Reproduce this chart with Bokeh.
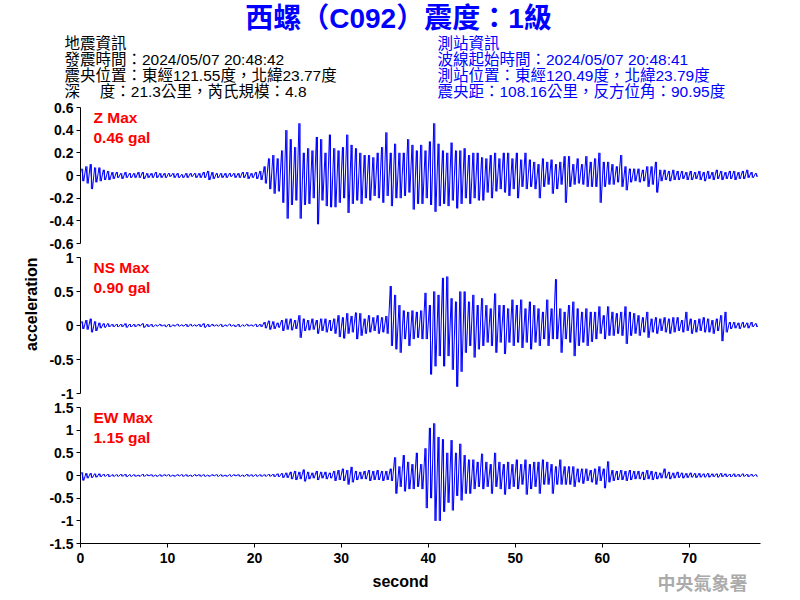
from bokeh.plotting import figure
from bokeh.layouts import column
from bokeh.models import Range1d, Label, Title, FixedTicker, CustomJSTickFormatter
from bokeh.embed import file_html
from bokeh.resources import INLINE
from bokeh.core.properties import value

# ---------------- data: peak values per half-second bin ----------------
BIN_START = [i * 0.5 for i in range(156)]   # seconds

Z_HI = [0.06, 0.08, 0.10, 0.07, 0.07, 0.05, 0.04, 0.03, 0.03, 0.02,
        0.03, 0.02, 0.02, 0.03, 0.03, 0.02, 0.02, 0.03, 0.02, 0.02,
        0.02, 0.02, 0.02, 0.01, 0.02, 0.02, 0.02, 0.02, 0.03, 0.04,
        0.03, 0.02, 0.02, 0.02, 0.02, 0.02, 0.02, 0.03, 0.03, 0.02,
        0.03, 0.04, 0.08, 0.15, 0.18, 0.15, 0.22, 0.40, 0.32, 0.25,
        0.46, 0.20, 0.24, 0.22, 0.34, 0.32, 0.20, 0.36, 0.24, 0.22,
        0.25, 0.36, 0.27, 0.24, 0.20, 0.18, 0.18, 0.16, 0.20, 0.25,
        0.38, 0.20, 0.28, 0.20, 0.20, 0.32, 0.27, 0.22, 0.27, 0.22,
        0.30, 0.46, 0.28, 0.22, 0.20, 0.29, 0.22, 0.22, 0.24, 0.18,
        0.20, 0.20, 0.16, 0.15, 0.18, 0.20, 0.15, 0.20, 0.20, 0.15,
        0.20, 0.14, 0.20, 0.14, 0.12, 0.10, 0.15, 0.12, 0.14, 0.10,
        0.12, 0.17, 0.17, 0.10, 0.15, 0.10, 0.17, 0.12, 0.15, 0.20,
        0.12, 0.12, 0.10, 0.08, 0.18, 0.08, 0.06, 0.06, 0.06, 0.05,
        0.08, 0.08, 0.12, 0.05, 0.05, 0.04, 0.05, 0.04, 0.04, 0.03,
        0.04, 0.03, 0.04, 0.03, 0.04, 0.03, 0.05, 0.04, 0.03, 0.04,
        0.04, 0.03, 0.04, 0.05, 0.03, 0.02]
Z_LO = [-0.05, -0.07, -0.12, -0.06, -0.05, -0.04, -0.04, -0.03, -0.02, -0.03,
        -0.02, -0.02, -0.02, -0.02, -0.03, -0.02, -0.02, -0.02, -0.02, -0.02,
        -0.01, -0.02, -0.02, -0.02, -0.02, -0.01, -0.02, -0.02, -0.02, -0.04,
        -0.03, -0.02, -0.02, -0.02, -0.01, -0.02, -0.02, -0.02, -0.03, -0.02,
        -0.03, -0.04, -0.07, -0.12, -0.16, -0.14, -0.24, -0.38, -0.26, -0.22,
        -0.38, -0.26, -0.25, -0.20, -0.43, -0.22, -0.27, -0.28, -0.28, -0.24,
        -0.20, -0.33, -0.25, -0.22, -0.25, -0.20, -0.22, -0.18, -0.20, -0.24,
        -0.18, -0.27, -0.20, -0.20, -0.18, -0.15, -0.30, -0.25, -0.25, -0.20,
        -0.26, -0.32, -0.27, -0.25, -0.27, -0.22, -0.29, -0.25, -0.20, -0.25,
        -0.20, -0.22, -0.22, -0.15, -0.20, -0.14, -0.12, -0.15, -0.18, -0.12,
        -0.20, -0.10, -0.12, -0.10, -0.12, -0.20, -0.10, -0.08, -0.16, -0.12,
        -0.08, -0.24, -0.10, -0.08, -0.07, -0.08, -0.10, -0.10, -0.10, -0.24,
        -0.10, -0.08, -0.08, -0.06, -0.10, -0.13, -0.06, -0.05, -0.06, -0.05,
        -0.10, -0.08, -0.15, -0.05, -0.04, -0.05, -0.04, -0.04, -0.03, -0.04,
        -0.04, -0.03, -0.04, -0.05, -0.03, -0.04, -0.03, -0.04, -0.03, -0.03,
        -0.04, -0.03, -0.03, -0.02, -0.02, -0.01]

NS_HI = [0.06, 0.08, 0.10, 0.06, 0.04, 0.03, 0.03, 0.02, 0.02, 0.02,
         0.03, 0.02, 0.02, 0.02, 0.03, 0.02, 0.02, 0.01, 0.02, 0.01,
         0.02, 0.01, 0.02, 0.01, 0.02, 0.02, 0.01, 0.02, 0.03, 0.02,
         0.02, 0.01, 0.02, 0.01, 0.02, 0.01, 0.02, 0.01, 0.02, 0.01,
         0.02, 0.02, 0.05, 0.07, 0.06, 0.04, 0.08, 0.10, 0.10, 0.08,
         0.15, 0.10, 0.08, 0.10, 0.08, 0.10, 0.10, 0.08, 0.10, 0.15,
         0.12, 0.18, 0.14, 0.19, 0.18, 0.10, 0.15, 0.12, 0.15, 0.12,
         0.14, 0.58, 0.45, 0.30, 0.22, 0.20, 0.22, 0.20, 0.22, 0.48,
         0.30, 0.50, 0.45, 0.70, 0.72, 0.40, 0.35, 0.50, 0.50, 0.35,
         0.45, 0.30, 0.40, 0.30, 0.25, 0.47, 0.30, 0.30, 0.25, 0.38,
         0.30, 0.38, 0.25, 0.35, 0.30, 0.25, 0.20, 0.38, 0.25, 0.68,
         0.25, 0.20, 0.30, 0.35, 0.25, 0.20, 0.25, 0.20, 0.20, 0.28,
         0.15, 0.28, 0.20, 0.18, 0.20, 0.28, 0.20, 0.18, 0.15, 0.12,
         0.20, 0.10, 0.12, 0.10, 0.12, 0.10, 0.12, 0.12, 0.08, 0.20,
         0.10, 0.08, 0.10, 0.12, 0.10, 0.08, 0.10, 0.15, 0.20, 0.05,
         0.05, 0.04, 0.05, 0.04, 0.05, 0.03]
NS_LO = [-0.05, -0.06, -0.10, -0.08, -0.04, -0.03, -0.02, -0.02, -0.02, -0.02,
         -0.03, -0.02, -0.02, -0.01, -0.03, -0.02, -0.02, -0.01, -0.01, -0.02,
         -0.02, -0.01, -0.01, -0.01, -0.02, -0.01, -0.01, -0.02, -0.03, -0.02,
         -0.01, -0.01, -0.02, -0.01, -0.01, -0.02, -0.02, -0.01, -0.01, -0.01,
         -0.02, -0.02, -0.04, -0.06, -0.05, -0.03, -0.08, -0.06, -0.07, -0.05,
         -0.18, -0.08, -0.07, -0.06, -0.12, -0.08, -0.10, -0.08, -0.12, -0.17,
         -0.19, -0.12, -0.10, -0.20, -0.15, -0.12, -0.10, -0.08, -0.12, -0.10,
         -0.12, -0.30, -0.35, -0.40, -0.20, -0.30, -0.20, -0.18, -0.20, -0.20,
         -0.72, -0.60, -0.45, -0.60, -0.45, -0.65, -0.90, -0.68, -0.40, -0.30,
         -0.47, -0.35, -0.30, -0.25, -0.30, -0.40, -0.25, -0.42, -0.25, -0.30,
         -0.25, -0.33, -0.25, -0.35, -0.25, -0.30, -0.20, -0.30, -0.20, -0.20,
         -0.40, -0.20, -0.25, -0.45, -0.30, -0.25, -0.30, -0.24, -0.20, -0.12,
         -0.20, -0.15, -0.15, -0.12, -0.15, -0.27, -0.15, -0.12, -0.15, -0.10,
         -0.18, -0.10, -0.12, -0.08, -0.10, -0.12, -0.10, -0.08, -0.10, -0.08,
         -0.12, -0.10, -0.08, -0.10, -0.10, -0.12, -0.08, -0.23, -0.10, -0.05,
         -0.04, -0.05, -0.03, -0.04, -0.02, -0.02]

EW_HI = [0.07, 0.05, 0.05, 0.04, 0.04, 0.03, 0.03, 0.02, 0.02, 0.03,
         0.03, 0.02, 0.02, 0.01, 0.03, 0.02, 0.02, 0.01, 0.02, 0.02,
         0.02, 0.01, 0.02, 0.02, 0.02, 0.01, 0.02, 0.02, 0.02, 0.01,
         0.02, 0.02, 0.02, 0.01, 0.02, 0.02, 0.02, 0.01, 0.03, 0.02,
         0.02, 0.02, 0.02, 0.03, 0.03, 0.04, 0.05, 0.06, 0.08, 0.10,
         0.08, 0.13, 0.08, 0.06, 0.10, 0.08, 0.08, 0.06, 0.10, 0.12,
         0.15, 0.12, 0.19, 0.10, 0.08, 0.10, 0.12, 0.10, 0.12, 0.10,
         0.10, 0.15, 0.40, 0.20, 0.45, 0.30, 0.25, 0.50, 0.25, 0.60,
         1.05, 1.15, 0.85, 0.80, 0.50, 0.78, 0.50, 0.70, 0.45, 0.35,
         0.35, 0.30, 0.48, 0.30, 0.25, 0.50, 0.30, 0.25, 0.30, 0.25,
         0.35, 0.25, 0.35, 0.25, 0.30, 0.30, 0.35, 0.30, 0.25, 0.20,
         0.35, 0.20, 0.20, 0.20, 0.15, 0.15, 0.15, 0.12, 0.15, 0.20,
         0.15, 0.31, 0.12, 0.10, 0.12, 0.10, 0.12, 0.10, 0.10, 0.08,
         0.12, 0.10, 0.08, 0.06, 0.15, 0.08, 0.06, 0.08, 0.06, 0.05,
         0.06, 0.05, 0.05, 0.04, 0.05, 0.04, 0.04, 0.05, 0.04, 0.03,
         0.04, 0.03, 0.04, 0.03, 0.03, 0.02]
EW_LO = [-0.11, -0.06, -0.05, -0.04, -0.03, -0.02, -0.03, -0.02, -0.02, -0.02,
         -0.03, -0.02, -0.02, -0.02, -0.02, -0.01, -0.02, -0.02, -0.02, -0.01,
         -0.02, -0.02, -0.01, -0.02, -0.02, -0.02, -0.01, -0.02, -0.02, -0.02,
         -0.01, -0.02, -0.02, -0.02, -0.02, -0.01, -0.02, -0.02, -0.02, -0.02,
         -0.02, -0.02, -0.02, -0.02, -0.03, -0.03, -0.05, -0.05, -0.08, -0.10,
         -0.08, -0.13, -0.08, -0.06, -0.10, -0.06, -0.08, -0.06, -0.12, -0.10,
         -0.12, -0.20, -0.15, -0.10, -0.08, -0.08, -0.12, -0.10, -0.10, -0.12,
         -0.10, -0.12, -0.40, -0.25, -0.35, -0.30, -0.30, -0.25, -0.30, -0.72,
         -0.50, -1.00, -1.00, -0.80, -0.60, -0.77, -0.45, -0.55, -0.40, -0.40,
         -0.30, -0.25, -0.30, -0.25, -0.40, -0.25, -0.30, -0.42, -0.30, -0.25,
         -0.30, -0.20, -0.42, -0.30, -0.25, -0.40, -0.20, -0.20, -0.40, -0.20,
         -0.20, -0.20, -0.20, -0.25, -0.15, -0.18, -0.12, -0.15, -0.20, -0.12,
         -0.28, -0.15, -0.12, -0.10, -0.10, -0.12, -0.10, -0.08, -0.08, -0.10,
         -0.08, -0.10, -0.08, -0.06, -0.06, -0.08, -0.06, -0.05, -0.06, -0.05,
         -0.04, -0.05, -0.04, -0.04, -0.04, -0.03, -0.04, -0.03, -0.03, -0.03,
         -0.03, -0.03, -0.02, -0.03, -0.02, -0.02]

X_TICKS = [0, 10, 20, 30, 40, 50, 60, 70]
Z_TICKS = [-0.6, -0.4, -0.2, 0, 0.2, 0.4, 0.6]
NS_TICKS = [-1, -0.5, 0, 0.5, 1]
EW_TICKS = [-1.5, -1, -0.5, 0, 0.5, 1, 1.5]

TITLE = "西螺（C092）震度：1級"
LEFT_INFO = ["地震資訊",
             "發震時間：2024/05/07 20:48:42",
             "震央位置：東經121.55度，北緯23.77度",
             "深　 度：21.3公里，芮氏規模：4.8"]
RIGHT_INFO = ["測站資訊",
              "波線起始時間：2024/05/07 20:48:41",
              "測站位置：東經120.49度，北緯23.79度",
              "震央距：108.16公里，反方位角：90.95度"]
MAX_LABELS = [("Z Max", "0.46 gal"), ("NS Max", "0.90 gal"), ("EW Max", "1.15 gal")]
Y_LABEL = "acceleration"
X_LABEL = "second"
AGENCY = "中央氣象署"

# ---------------- styling ----------------
FONT = "Liberation Sans, Noto Sans CJK TC"
BLUE = "#0000ff"
X_END = 78.2
FRAME_W = 680
FRAME_H = 136
QUARTER = 0.125


def bare(width, height):
    f = figure(width=width, height=height, x_range=Range1d(0, width), y_range=Range1d(height, 0),
               output_backend="svg", toolbar_location=None, min_border=0,
               x_axis_location=None, y_axis_location=None, outline_line_color=None)
    f.xgrid.visible = False
    f.ygrid.visible = False
    f.frame_align = False
    return f


# header (pixel coordinates)
hdr = bare(800, 100)
hdr.text(x=[398], y=[18], text=[TITLE], text_font=value(FONT), text_font_style="bold",
         text_font_size="28px", text_color=BLUE, text_align="center", text_baseline="middle")
rows_y = [43, 59, 75, 91]
hdr.text(x=[64] * 4, y=rows_y, text=LEFT_INFO, text_font=value(FONT),
         text_font_size="15.5px", text_color="black", text_baseline="middle")
hdr.text(x=[437] * 4, y=rows_y, text=RIGHT_INFO, text_font=value(FONT),
         text_font_size="15.5px", text_color=BLUE, text_baseline="middle")

# footer (pixel coordinates)
ftr = bare(800, 32)
ftr.text(x=[400], y=[13], text=[X_LABEL], text_font=value(FONT), text_font_style="bold",
         text_font_size="16px", text_color="black", text_align="center", text_baseline="middle")
ftr.text(x=[702], y=[13], text=[AGENCY], text_font=value("Noto Sans CJK TC"), text_font_style="bold",
         text_font_size="18px", text_color="#ababab", text_align="center", text_baseline="middle")


def zigzag(hi, lo):
    xs, ys = [], []
    for s, h, l in zip(BIN_START, hi, lo):
        xs += [s + QUARTER, s + 3 * QUARTER]
        ys += [h, l]
    return xs, ys


def panel(height, bottom, ylim, ticks, hi, lo, labels, show_x):
    p = figure(width=800, height=height, x_range=Range1d(0, X_END),
               y_range=Range1d(ylim[0], ylim[1]),
               output_backend="svg", toolbar_location=None,
               min_border_left=80, min_border_right=40,
               min_border_top=7, min_border_bottom=bottom,
               x_axis_location="below" if show_x else None,
               outline_line_color=None)
    p.xgrid.visible = False
    p.ygrid.visible = False
    fmt = CustomJSTickFormatter(code="return String(tick);")
    axes = list(p.yaxis) + (list(p.xaxis) if show_x else [])
    for ax in axes:
        ax.axis_line_color = "black"
        ax.major_tick_line_color = "black"
        ax.major_tick_out = 4
        ax.major_tick_in = 0
        ax.minor_tick_line_color = None
        ax.major_label_text_font = FONT
        ax.major_label_text_font_style = "bold"
        ax.major_label_text_font_size = "14px"
        ax.major_label_text_color = "black"
        ax.formatter = fmt
    p.yaxis.ticker = FixedTicker(ticks=ticks, minor_ticks=[])
    p.yaxis.major_label_standoff = 3
    if show_x:
        p.xaxis.ticker = FixedTicker(ticks=X_TICKS, minor_ticks=[])
        p.xaxis.major_label_standoff = 5
    # min-max bar of each bin, plus the trace through the peaks
    centers = [s + 2 * QUARTER for s in BIN_START]
    p.segment(x0=centers, y0=lo, x1=centers, y1=hi, line_color=BLUE, line_width=1)
    xs, ys = zigzag(hi, lo)
    p.line(xs, ys, line_color=BLUE, line_width=1)
    span = ylim[1] - ylim[0]
    sx = X_END / FRAME_W
    for i, txt in enumerate(labels):
        p.add_layout(Label(x=13 * sx, y=ylim[1] - (10 + 20 * i) * span / FRAME_H, text=txt,
                           text_font=FONT, text_font_style="bold", text_font_size="15.5px",
                           text_color="red", text_baseline="middle", text_align="left"))
    return p


pz = panel(150, 7, (-0.6, 0.6), Z_TICKS, Z_HI, Z_LO, MAX_LABELS[0], False)
pns = panel(150, 7, (-1, 1), NS_TICKS, NS_HI, NS_LO, MAX_LABELS[1], False)
pew = panel(168, 25, (-1.5, 1.5), EW_TICKS, EW_HI, EW_LO, MAX_LABELS[2], True)

pns.add_layout(Title(text=Y_LABEL, align="right", offset=0, text_font=FONT,
                     text_font_style="bold", text_font_size="16px", text_color="black",
                     standoff=14), "left")

layout = column(hdr, pz, pns, pew, ftr, spacing=0)
open("out.html", "w").write(file_html(layout, INLINE))
